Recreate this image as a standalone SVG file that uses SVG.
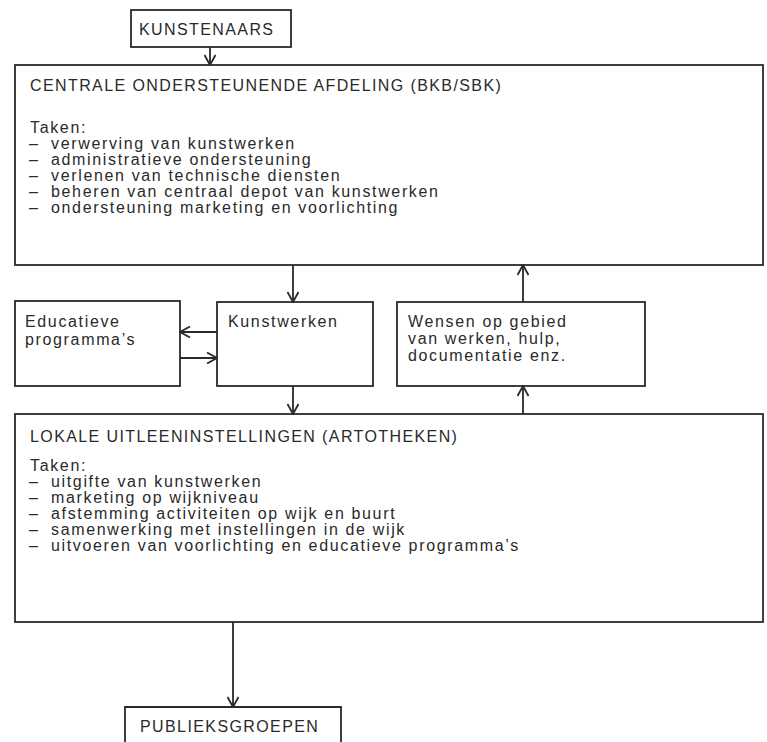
<svg xmlns="http://www.w3.org/2000/svg" width="767" height="742" viewBox="0 0 767 742">
<defs>
<style>
.box{fill:none;stroke:#2a2a2a;stroke-width:1.8}
.t{font-family:"Liberation Sans",Arial,sans-serif;font-size:16px;letter-spacing:1.4px;fill:#2a2a2a}
.l{letter-spacing:1.65px}
.c{stroke:#2a2a2a;stroke-width:1.8;fill:none}
</style>
<marker id="ah" markerUnits="userSpaceOnUse" viewBox="0 0 12 12" refX="11" refY="6" markerWidth="12" markerHeight="12" orient="auto">
<path d="M1,0.5 L11,6 L1,11.5" fill="none" stroke="#2a2a2a" stroke-width="1.8"/>
</marker>
</defs>
<rect width="767" height="742" fill="#ffffff"/>

<g id="kunstenaars">
<rect class="box" x="131" y="10" width="160" height="37"/>
<text class="t" x="139" y="35">KUNSTENAARS</text>
</g>

<g id="centrale">
<rect class="box" x="15" y="65" width="748" height="200"/>
<text class="t" x="30" y="91">CENTRALE ONDERSTEUNENDE AFDELING (BKB/SBK)</text>
<text class="t l" x="30" y="133">Taken:</text>
<text class="t" x="29" y="149">–</text><text class="t l" x="51" y="149">verwerving van kunstwerken</text>
<text class="t" x="29" y="165">–</text><text class="t l" x="51" y="165">administratieve ondersteuning</text>
<text class="t" x="29" y="181">–</text><text class="t l" x="51" y="181">verlenen van technische diensten</text>
<text class="t" x="29" y="197">–</text><text class="t l" x="51" y="197">beheren van centraal depot van kunstwerken</text>
<text class="t" x="29" y="213">–</text><text class="t l" x="51" y="213">ondersteuning marketing en voorlichting</text>
</g>

<g id="educatieve">
<rect class="box" x="15" y="301" width="165" height="85"/>
<text class="t l" x="25" y="327">Educatieve</text>
<text class="t l" x="25" y="345">programma’s</text>
</g>

<g id="kunstwerken">
<rect class="box" x="217" y="302" width="156" height="84"/>
<text class="t l" x="228" y="327">Kunstwerken</text>
</g>

<g id="wensen">
<rect class="box" x="397" y="302" width="248" height="84"/>
<text class="t l" x="408" y="327">Wensen op gebied</text>
<text class="t l" x="408" y="344">van werken, hulp,</text>
<text class="t l" x="408" y="361">documentatie enz.</text>
</g>

<g id="lokale">
<rect class="box" x="15" y="414" width="748" height="208"/>
<text class="t" x="30" y="442">LOKALE UITLEENINSTELLINGEN (ARTOTHEKEN)</text>
<text class="t l" x="30" y="471">Taken:</text>
<text class="t" x="29" y="487">–</text><text class="t l" x="51" y="487">uitgifte van kunstwerken</text>
<text class="t" x="29" y="503">–</text><text class="t l" x="51" y="503">marketing op wijkniveau</text>
<text class="t" x="29" y="519">–</text><text class="t l" x="51" y="519">afstemming activiteiten op wijk en buurt</text>
<text class="t" x="29" y="535">–</text><text class="t l" x="51" y="535">samenwerking met instellingen in de wijk</text>
<text class="t" x="29" y="551">–</text><text class="t l" x="51" y="551">uitvoeren van voorlichting en educatieve programma’s</text>
</g>

<g id="publieksgroepen">
<path class="box" d="M125,742 V707 H341 V742"/>
<text class="t" x="140" y="732">PUBLIEKSGROEPEN</text>
</g>

<g id="connectors">
<line class="c" x1="210" y1="47" x2="210" y2="65" marker-end="url(#ah)"/>
<line class="c" x1="293" y1="265" x2="293" y2="302" marker-end="url(#ah)"/>
<line class="c" x1="523" y1="302" x2="523" y2="265" marker-end="url(#ah)"/>
<line class="c" x1="217" y1="332" x2="180" y2="332" marker-end="url(#ah)"/>
<line class="c" x1="180" y1="358" x2="217" y2="358" marker-end="url(#ah)"/>
<line class="c" x1="293" y1="386" x2="293" y2="414" marker-end="url(#ah)"/>
<line class="c" x1="523" y1="414" x2="523" y2="386" marker-end="url(#ah)"/>
<line class="c" x1="233" y1="622" x2="233" y2="707" marker-end="url(#ah)"/>
</g>
</svg>
